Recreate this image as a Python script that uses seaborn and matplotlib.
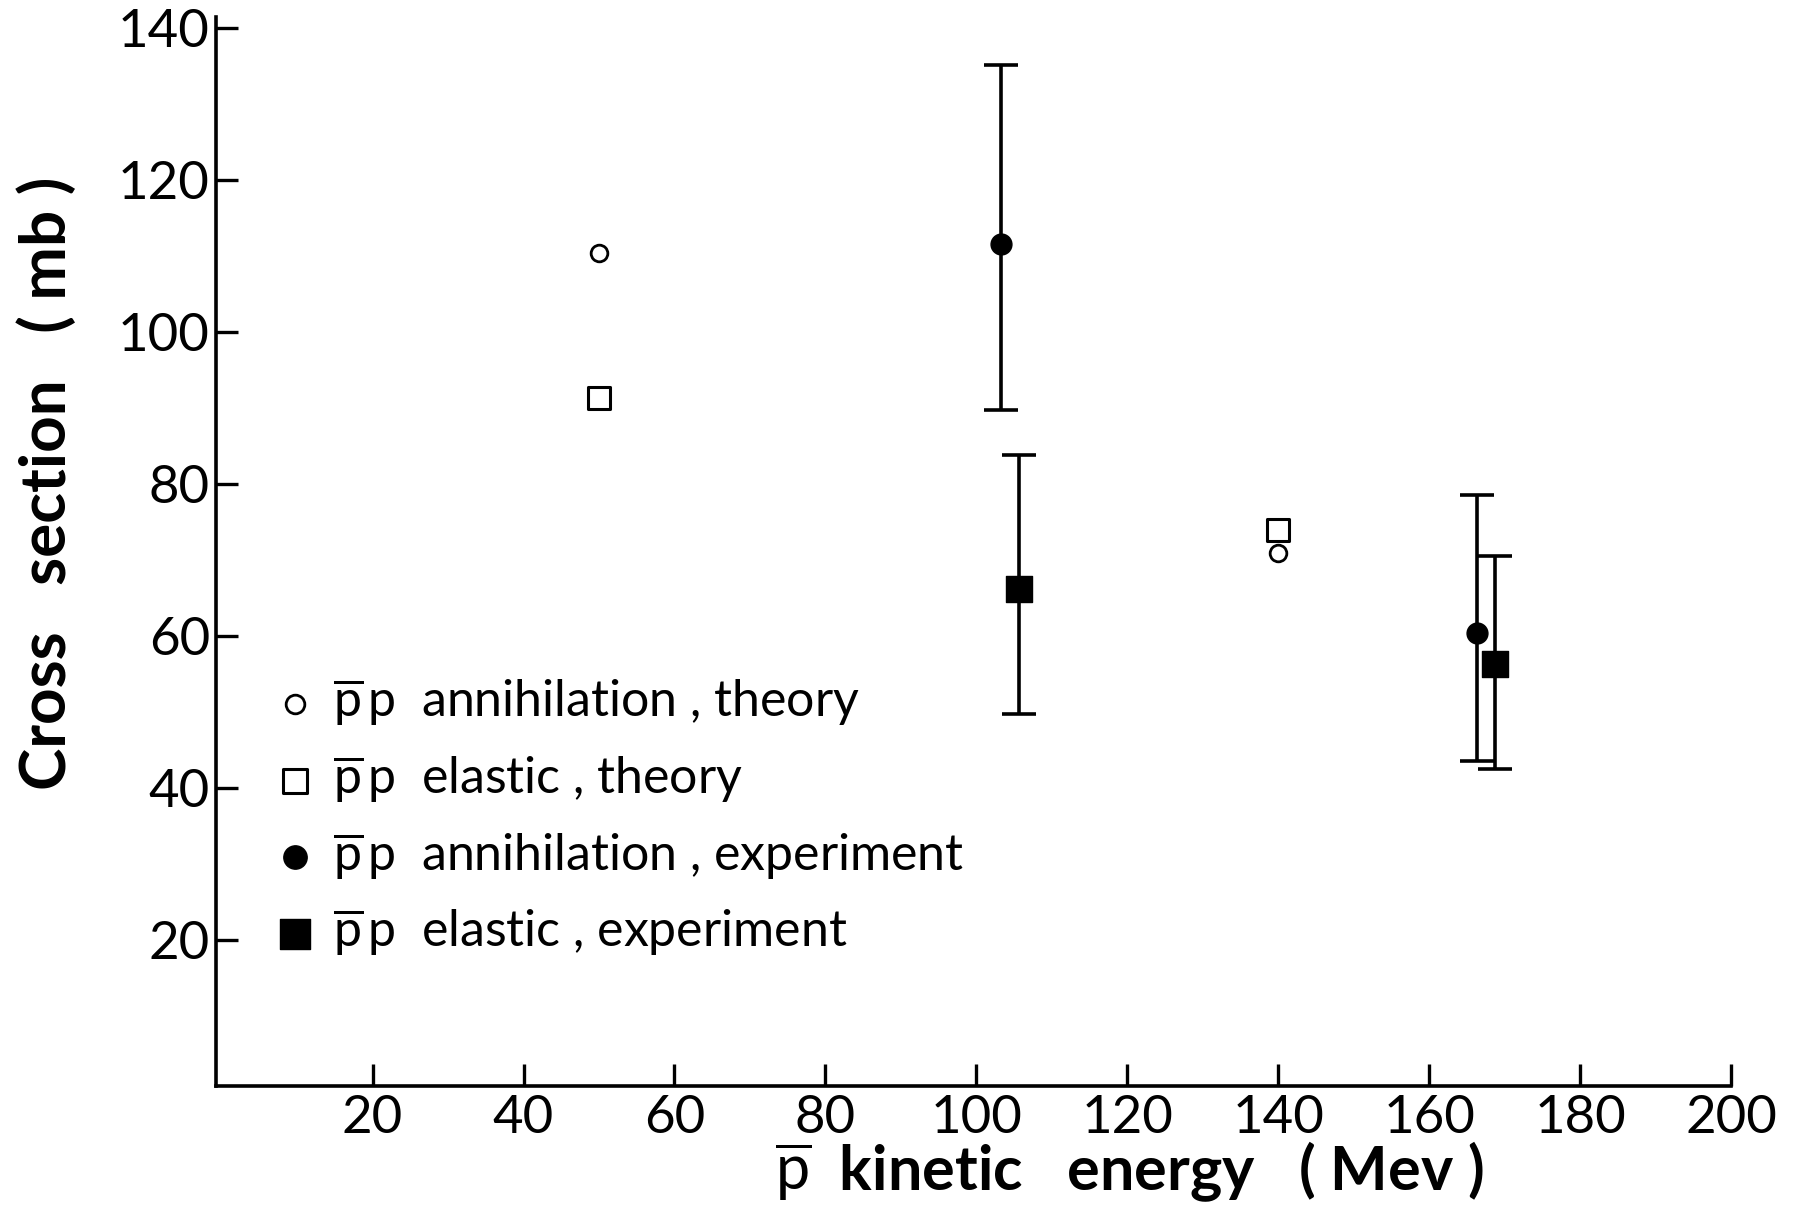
import matplotlib
matplotlib.use("Agg")
import matplotlib.pyplot as plt
import seaborn as sns

# ---- data ----
ann_theory_x = [50, 140]
ann_theory_y = [110.5, 71.0]

el_theory_x = [50, 140]
el_theory_y = [91.3, 74.0]

ann_exp_x = [103.3, 166.3]
ann_exp_y = [111.6, 60.5]
ann_exp_lo = [89.8, 43.6]
ann_exp_hi = [135.2, 78.6]

el_exp_x = [105.7, 168.7]
el_exp_y = [66.2, 56.4]
el_exp_lo = [49.8, 42.6]
el_exp_hi = [83.9, 70.6]

x_ticks = [20, 40, 60, 80, 100, 120, 140, 160, 180, 200]
y_ticks = [20, 40, 60, 80, 100, 120, 140]

labels = [
    r"$\overline{\mathrm{p}}\,\mathrm{p}$  annihilation , theory",
    r"$\overline{\mathrm{p}}\,\mathrm{p}$  elastic , theory",
    r"$\overline{\mathrm{p}}\,\mathrm{p}$  annihilation , experiment",
    r"$\overline{\mathrm{p}}\,\mathrm{p}$  elastic , experiment",
]

sns.set_theme(style="white")
plt.rcParams["font.family"] = ["Lato", "DejaVu Sans"]
plt.rcParams["mathtext.fontset"] = "custom"
plt.rcParams["mathtext.rm"] = "Lato"
plt.rcParams["mathtext.it"] = "Lato:italic"
plt.rcParams["mathtext.bf"] = "Lato:bold"

fig = plt.figure(figsize=(18.11, 12.07), dpi=100)
ax = fig.add_axes([0.119, 0.100, 0.837, 0.886])

# error bars
ax.errorbar(ann_exp_x, ann_exp_y,
            yerr=[[y - l for y, l in zip(ann_exp_y, ann_exp_lo)],
                  [h - y for y, h in zip(ann_exp_y, ann_exp_hi)]],
            fmt="none", ecolor="black", elinewidth=2.6, capsize=12, capthick=2.6, zorder=2)
ax.errorbar(el_exp_x, el_exp_y,
            yerr=[[y - l for y, l in zip(el_exp_y, el_exp_lo)],
                  [h - y for y, h in zip(el_exp_y, el_exp_hi)]],
            fmt="none", ecolor="black", elinewidth=2.6, capsize=12, capthick=2.6, zorder=2)

sns.scatterplot(x=ann_theory_x, y=ann_theory_y, ax=ax, marker="o", s=12**2,
                facecolor="white", edgecolor="black", linewidth=2.0, label=labels[0], zorder=3)
sns.scatterplot(x=el_theory_x, y=el_theory_y, ax=ax, marker="s", s=16**2,
                facecolor="white", edgecolor="black", linewidth=2.2, label=labels[1], zorder=3)
sns.scatterplot(x=ann_exp_x, y=ann_exp_y, ax=ax, marker="o", s=15**2,
                color="black", edgecolor="black", linewidth=1, label=labels[2], zorder=4)
sns.scatterplot(x=el_exp_x, y=el_exp_y, ax=ax, marker="s", s=19**2,
                color="black", edgecolor="black", linewidth=1, label=labels[3], zorder=4)

ax.set_xlim(-0.8, 200)
ax.set_ylim(0.8, 141.5)
ax.set_xticks(x_ticks)
ax.set_yticks(y_ticks)
ax.set_xticklabels([str(v) for v in x_ticks])
ax.set_yticklabels([str(v) for v in y_ticks])

for side in ["top", "right"]:
    ax.spines[side].set_visible(False)
for side in ["left", "bottom"]:
    ax.spines[side].set_color("black")
    ax.spines[side].set_linewidth(2.6)

ax.tick_params(axis="both", which="major", direction="in", length=16, width=2.4,
               color="black", labelsize=38, labelcolor="black",
               bottom=True, left=True, top=False, right=False)
ax.tick_params(axis="y", pad=4)
ax.tick_params(axis="x", pad=6)

ax.set_ylabel("Cross   section   ( mb )", fontsize=46, fontweight="bold", color="black")
ax.yaxis.set_label_coords(-0.092, 0.564)
ax.set_xlabel(r"$\overline{\mathrm{p}}$  kinetic   energy   ( Mev )", fontsize=44,
              fontweight="bold", color="black")
ax.xaxis.set_label_coords(0.603, -0.050)

leg = ax.legend(loc="upper left", bbox_to_anchor=(0.023, 0.402), frameon=False,
                fontsize=36, handletextpad=0.25, labelspacing=0.51, borderaxespad=0,
                handlelength=1.0, scatterpoints=1, markerscale=1.12)
for txt in leg.get_texts():
    txt.set_color("black")

fig.savefig("out.png", dpi=100, facecolor="white")
